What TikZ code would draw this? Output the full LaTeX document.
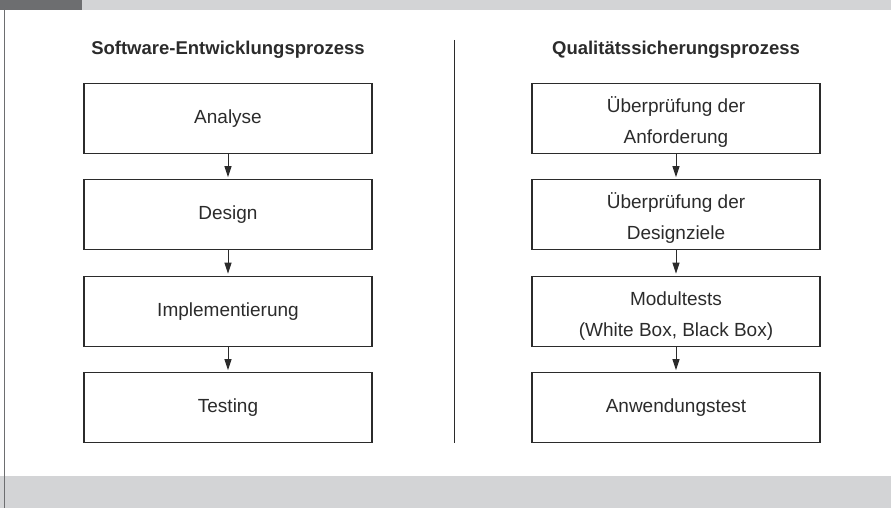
\documentclass[tikz,border=0pt]{standalone}
\usepackage{fontspec}
\setmainfont{Liberation Sans}
\usetikzlibrary{positioning,arrows.meta}
\definecolor{bandgray}{HTML}{D3D4D6}
\definecolor{tabgray}{HTML}{6D6E70}
\definecolor{inkgray}{HTML}{2B2B2B}
\newcommand{\highstrut}{\rule{0pt}{23pt}}
\tikzset{
  stepbox/.style={rectangle,draw=inkgray,line width=1.3pt,text=inkgray,
    minimum width=288pt,minimum height=70pt,align=center,
    font=\fontsize{19}{31}\selectfont},
  headline/.style={anchor=base,text=inkgray,font=\fontsize{18.5}{22}\selectfont\bfseries},
  flow/.style={draw=inkgray,line width=1pt,-{Triangle[length=11pt,width=7pt]},shorten >=2pt}
}

\begin{document}
\begin{tikzpicture}[x=1pt,y=1pt,node distance=25.2pt]
    \useasboundingbox (0,0) rectangle (891,508);

    % Frame
    \fill[bandgray] (0,498) rectangle (891,508);
    \fill[tabgray] (0,498) rectangle (82,508);
    \fill[bandgray] (0,0) rectangle (891,32);
    \draw[tabgray,line width=1.5pt] (4.5,0) -- (4.5,498);
    \draw[inkgray,line width=1.3pt] (454.7,468) -- (454.7,65);

    % Software development process
    \node (sw_title) [headline] at (228,453) {Software-Entwicklungsprozess};
    \node (analyse) [stepbox] at (228,389.7) {Analyse};
    \node (design) [stepbox,below=of analyse] {Design};
    \node (implement) [stepbox,below=of design] {Implementierung};
    \node (testing) [stepbox,below=of implement] {Testing};

    % Quality assurance process
    \node (qa_title) [headline] at (676,453) {Qualitätssicherungsprozess};
    \node (req_check) [stepbox] at (676,389.7) {\highstrut Überprüfung der\\Anforderung};
    \node (design_check) [stepbox,below=of req_check] {\highstrut Überprüfung der\\Designziele};
    \node (module_tests) [stepbox,below=of design_check] {\highstrut Modultests\\(White Box, Black Box)};
    \node (app_test) [stepbox,below=of module_tests] {Anwendungstest};

    \draw[flow] (analyse) -- (design);
    \draw[flow] (design) -- (implement);
    \draw[flow] (implement) -- (testing);

    \draw[flow] (req_check) -- (design_check);
    \draw[flow] (design_check) -- (module_tests);
    \draw[flow] (module_tests) -- (app_test);
\end{tikzpicture}
\end{document}
